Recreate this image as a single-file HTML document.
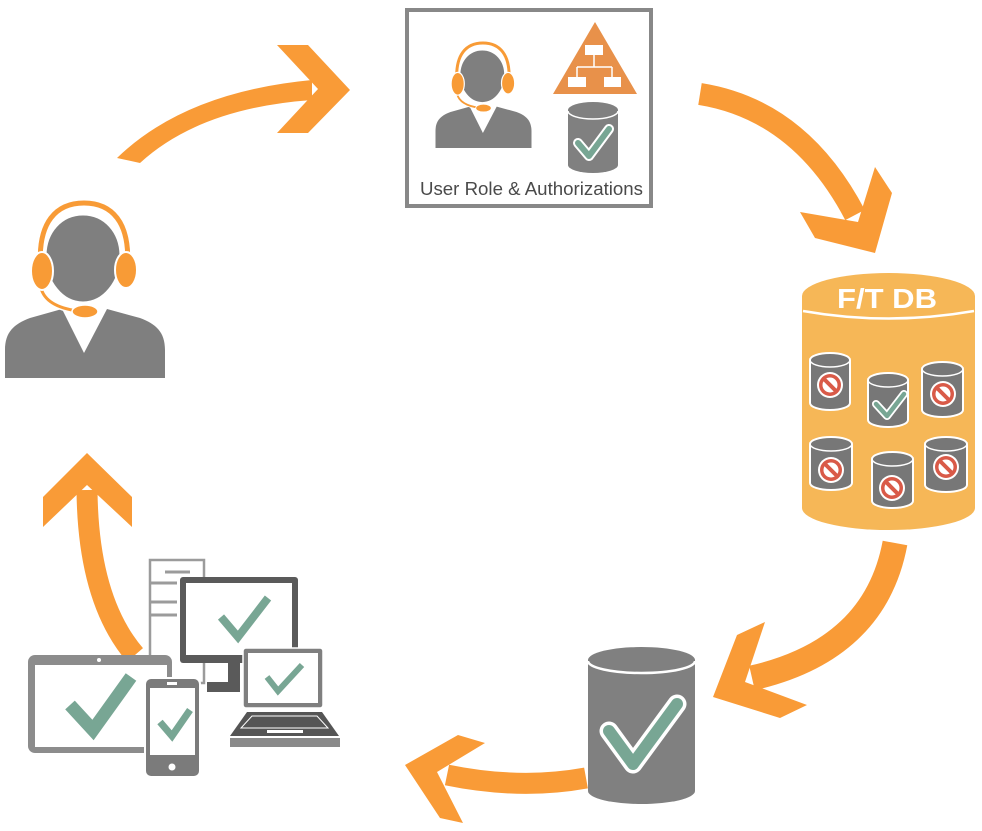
<!DOCTYPE html>
<html>
<head>
<meta charset="utf-8">
<style>
html,body{margin:0;padding:0;background:#fff;}
svg{display:block;}
</style>
</head>
<body>
<svg width="982" height="831" viewBox="0 0 982 831" xmlns="http://www.w3.org/2000/svg">
<defs>
  <g id="person">
    <path d="M5,378 L5,350 C5,332 14,324 30,318 L62,309 L84,353 L107,309 L140,318 C156,324 165,332 165,350 L165,378 Z" fill="#7f7f7f"/>
    <path d="M83,214 C105,214 121,232 121,256 C121,282 104,303 83,303 C62,303 45,282 45,256 C45,232 61,214 83,214 Z" fill="#7f7f7f" stroke="#fff" stroke-width="3"/>
    <path d="M41,272 C36,220 58,203 84,203 C110,203 132,220 127,272" fill="none" stroke="#fff" stroke-width="9"/>
    <path d="M41,272 C36,220 58,203 84,203 C110,203 132,220 127,272" fill="none" stroke="#F89B36" stroke-width="5"/>
    <path d="M41,288 C44,300 56,308 78,311" fill="none" stroke="#fff" stroke-width="6"/>
    <path d="M41,288 C44,300 56,308 78,311" fill="none" stroke="#F89B36" stroke-width="3"/>
    <ellipse cx="42" cy="271" rx="11" ry="19" fill="#F89B36" stroke="#fff" stroke-width="2"/>
    <ellipse cx="126" cy="270" rx="11" ry="18" fill="#F89B36" stroke="#fff" stroke-width="2"/>
    <ellipse cx="85" cy="311.5" rx="13" ry="6.5" fill="#F89B36" stroke="#fff" stroke-width="1.5"/>
  </g>
  <g id="sign">
    <circle r="13" fill="#fff"/>
    <circle r="11" fill="#D95A48"/>
    <circle r="7.5" fill="#fff"/>
    <line x1="-6" y1="-6" x2="6" y2="6" stroke="#D95A48" stroke-width="4"/>
  </g>
</defs>

<!-- Arrows -->
<g fill="#F99B37">
  <path d="M117,158 Q185,92 312,80 L312,100 Q200,108 140,163 Z"/>
  <polygon points="277,45 308,45 350,90 308,133 277,133 318,89"/>

  <path d="M700,94 Q800,110 855,215" fill="none" stroke="#F99B37" stroke-width="22"/>
  <polygon points="800,212 858,222 875,167 892,193 875,253 815,238"/>

  <path d="M895,543 Q875,650 752,678" fill="none" stroke="#F99B37" stroke-width="25"/>
  <polygon points="737,635 765,622 745,682 807,705 780,718 713,697"/>

  <path d="M586,778 Q520,790 447,775" fill="none" stroke="#F99B37" stroke-width="21"/>
  <polygon points="405,765 458,735 485,743 437,772 463,823 440,818"/>

  <path d="M87,490 Q88,600 135,655" fill="none" stroke="#F99B37" stroke-width="21"/>
  <polygon points="87,453 132,497 132,527 87,485 43,527 43,497"/>
</g>

<!-- Left person -->
<use href="#person"/>

<!-- User Role box -->
<rect x="407" y="10" width="244" height="196" fill="#fff" stroke="#888" stroke-width="4"/>
<use href="#person" transform="translate(432.5,-78.8) scale(0.6)"/>
<polygon points="553,94 595,22 637,94" fill="#E8914A"/>
<g stroke="#fff" stroke-width="1.5" fill="none">
  <line x1="594" y1="55" x2="594" y2="67"/>
  <line x1="577" y1="67" x2="612" y2="67"/>
  <line x1="577" y1="67" x2="577" y2="77"/>
  <line x1="612" y1="67" x2="612" y2="77"/>
</g>
<rect x="585" y="45" width="18" height="10" fill="#fff"/>
<rect x="568" y="77" width="18" height="10" fill="#fff"/>
<rect x="604" y="77" width="17" height="10" fill="#fff"/>
<path d="M568,110 L568,165 A25,8 0 0 0 618,165 L618,110 A25,8 0 0 0 568,110 Z" fill="#808080"/>
<path d="M568,111 A25,8 0 0 0 618,111" fill="none" stroke="#fff" stroke-width="1.5"/>
<polyline points="578,143 589,156 609,129" fill="none" stroke="#fff" stroke-width="10" stroke-linejoin="round" stroke-linecap="round"/>
<polyline points="578,143 589,156 609,129" fill="none" stroke="#78A694" stroke-width="6" stroke-linejoin="round" stroke-linecap="round"/>
<text x="420" y="195" font-family="Liberation Sans, Arial, sans-serif" font-size="18.5" fill="#4a4a4a" textLength="223" lengthAdjust="spacingAndGlyphs">User Role &amp; Authorizations</text>

<!-- F/T DB -->
<path d="M802,296 L802,508 A86.5,22 0 0 0 975,508 L975,296 A86.5,23 0 0 0 802,296 Z" fill="#F6B757"/>
<path d="M803,311 Q888,326 974,311" fill="none" stroke="#fff" stroke-width="2.5"/>
<text x="837" y="308" font-family="Liberation Sans, Arial, sans-serif" font-weight="bold" font-size="28" fill="#fff" textLength="100" lengthAdjust="spacingAndGlyphs">F/T DB</text>

<g fill="#777" stroke="#fff" stroke-width="2">
  <path d="M810,360 L810,403 A20,7 0 0 0 850,403 L850,360 A20,7 0 0 0 810,360 Z"/>
  <path d="M868,380 L868,420 A20,7 0 0 0 908,420 L908,380 A20,7 0 0 0 868,380 Z"/>
  <path d="M922,369 L922,410 A20.5,7 0 0 0 963,410 L963,369 A20.5,7 0 0 0 922,369 Z"/>
  <path d="M810,444 L810,483 A21,7 0 0 0 852,483 L852,444 A21,7 0 0 0 810,444 Z"/>
  <path d="M872,459 L872,501 A20.5,7 0 0 0 913,501 L913,459 A20.5,7 0 0 0 872,459 Z"/>
  <path d="M925,444 L925,485 A21,7 0 0 0 967,485 L967,444 A21,7 0 0 0 925,444 Z"/>
</g>
<g fill="none" stroke="#fff" stroke-width="1.5">
  <path d="M810,360 A20,7 0 0 0 850,360"/>
  <path d="M868,380 A20,7 0 0 0 908,380"/>
  <path d="M922,369 A20.5,7 0 0 0 963,369"/>
  <path d="M810,444 A21,7 0 0 0 852,444"/>
  <path d="M872,459 A20.5,7 0 0 0 913,459"/>
  <path d="M925,444 A21,7 0 0 0 967,444"/>
</g>
<use href="#sign" transform="translate(830,385)"/>
<use href="#sign" transform="translate(943,394)"/>
<use href="#sign" transform="translate(831,470)"/>
<use href="#sign" transform="translate(892,488)"/>
<use href="#sign" transform="translate(946,467)"/>
<polyline points="876,404 887,416 904,394" fill="none" stroke="#fff" stroke-width="8" stroke-linejoin="round" stroke-linecap="round"/>
<polyline points="876,404 887,416 904,394" fill="none" stroke="#78A694" stroke-width="4.5" stroke-linejoin="round" stroke-linecap="round"/>

<!-- Bottom DB -->
<path d="M588,660 L588,791 A53.5,13 0 0 0 695,791 L695,660 A53.5,13 0 0 0 588,660 Z" fill="#808080"/>
<path d="M588,661 A53.5,12 0 0 0 695,661" fill="none" stroke="#fff" stroke-width="2.5"/>
<polyline points="609,731 633,764 677,704" fill="none" stroke="#fff" stroke-width="19" stroke-linejoin="round" stroke-linecap="round"/>
<polyline points="609,731 633,764 677,704" fill="none" stroke="#78A694" stroke-width="12" stroke-linejoin="round" stroke-linecap="round"/>

<!-- Devices -->
<rect x="150" y="560" width="54" height="123" fill="#fff" stroke="#9b9b9b" stroke-width="2.5"/>
<g stroke="#9b9b9b" stroke-width="3">
  <line x1="165" y1="572" x2="190" y2="572"/>
  <line x1="151" y1="583" x2="177" y2="583"/>
  <line x1="151" y1="602" x2="177" y2="602"/>
  <line x1="151" y1="615" x2="177" y2="615"/>
</g>
<rect x="180" y="577" width="118" height="86" rx="3" fill="#5a5a5a"/>
<rect x="186" y="583" width="106" height="72" fill="#fff"/>
<rect x="228" y="662" width="12" height="30" fill="#5a5a5a"/>
<rect x="207" y="682" width="33" height="10" fill="#5a5a5a"/>
<polyline points="221,617 238,637 268,598" fill="none" stroke="#78A694" stroke-width="8"/>
<rect x="243" y="648" width="80" height="60" rx="3" fill="#7f7f7f" stroke="#fff" stroke-width="1.5"/>
<rect x="248" y="653" width="70" height="50" fill="#fff"/>
<polyline points="267,677 278,691 302,665" fill="none" stroke="#78A694" stroke-width="6"/>
<polygon points="247,712 322,712 339,736 230,736" fill="#555"/>
<polygon points="252,716 317,716 328,728 241,728" fill="none" stroke="#fff" stroke-width="1"/>
<rect x="267" y="730" width="36" height="3" fill="#fff"/>
<rect x="230" y="738" width="110" height="9" fill="#8a8a8a"/>
<rect x="28" y="655" width="144" height="98" rx="7" fill="#8c8c8c"/>
<rect x="35" y="665" width="132" height="82" fill="#fff"/>
<circle cx="99" cy="660" r="2" fill="#fff"/>
<polyline points="70,705 93,730 131,677" fill="none" stroke="#78A694" stroke-width="13"/>
<rect x="145" y="678" width="55" height="99" rx="6" fill="#7b7b7b" stroke="#fff" stroke-width="2"/>
<rect x="150" y="688" width="45" height="67" fill="#fff"/>
<rect x="167" y="682" width="10" height="3" fill="#fff"/>
<circle cx="172" cy="767" r="3.5" fill="#fff"/>
<polyline points="160,722 172,736 190,710" fill="none" stroke="#78A694" stroke-width="7"/>
</svg>
</body>
</html>
